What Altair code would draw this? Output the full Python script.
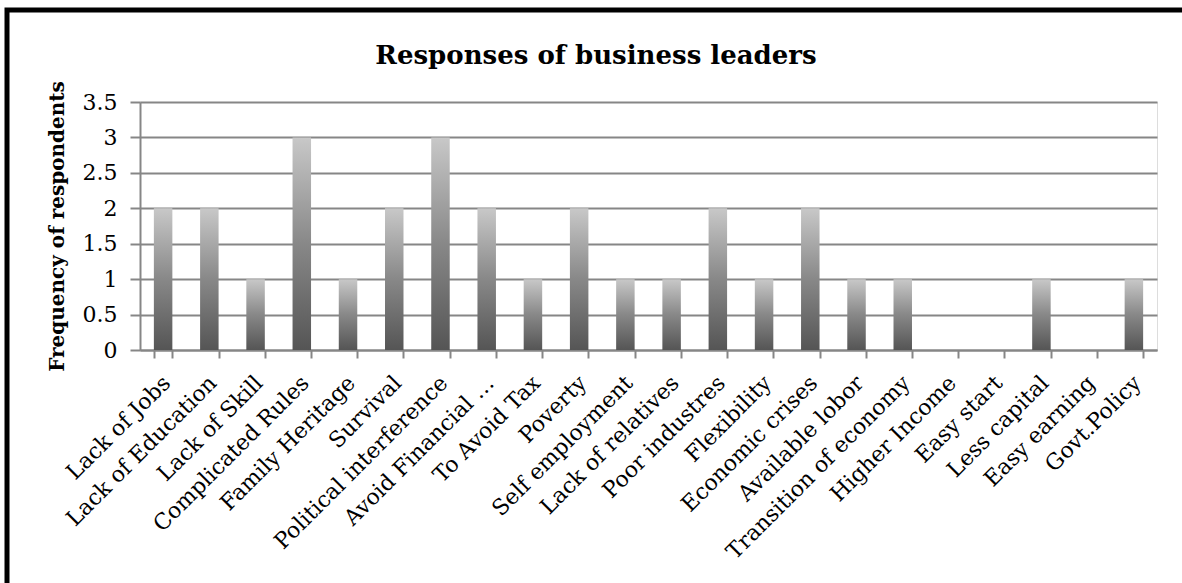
import altair as alt
import pandas as pd

categories = ["Lack of Jobs", "Lack of Education", "Lack of Skill", "Complicated Rules",
              "Family Heritage", "Survival", "Political interference", "Avoid Financial …",
              "To Avoid Tax", "Poverty", "Self employment", "Lack of relatives",
              "Poor industres", "Flexibility", "Economic crises", "Available lobor",
              "Transition of economy", "Higher Income", "Easy start", "Less capital",
              "Easy earning", "Govt.Policy"]
values = [2, 2, 1, 3, 1, 2, 3, 2, 1, 2, 1, 1, 2, 1, 2, 1, 1, 0, 0, 1, 0, 1]
y_ticks = [0, 0.5, 1, 1.5, 2, 2.5, 3, 3.5]
title_text = "Responses of business leaders"

df = pd.DataFrame({"cat": categories, "val": values})

FONT = "DejaVu Serif"
GRID = "#868686"

grad = alt.Gradient(
    gradient="linear",
    stops=[alt.GradientStop(color="#555555", offset=0),
           alt.GradientStop(color="#888888", offset=0.5),
           alt.GradientStop(color="#c8c8c8", offset=1)],
    x1=0, x2=0, y1=1, y2=0,
)

bars = alt.Chart(df).mark_bar(color=grad).encode(
    x=alt.X("cat:N", sort=categories,
            scale=alt.Scale(paddingInner=0.6, paddingOuter=0.3),
            axis=alt.Axis(title=None, labelAngle=-45, labelFont=FONT, labelFontSize=22,
                          labelColor="#000000", labelPadding=14, labelOffset=-4,
                          tickBand="extent",
                          tickSize=8, tickColor=GRID, tickWidth=2, domainColor=GRID,
                          domainWidth=2, grid=False, labelLimit=400)),
    y=alt.Y("val:Q", scale=alt.Scale(domain=[0, 3.5], nice=False),
            axis=alt.Axis(values=y_ticks, labelExpr="datum.value", title="Frequency of respondents",
                          labelFont=FONT, labelFontSize=22, labelColor="#000000",
                          labelPadding=13, tickSize=10, tickColor=GRID, tickWidth=2,
                          domainColor=GRID, domainWidth=2, grid=True, gridColor=GRID,
                          gridWidth=2, titleFont=FONT, titleFontSize=20,
                          titleFontWeight="bold", titleColor="#000000", titleAngle=-90,
                          titleX=-83, titleY=124, titleAlign="center",
                          titleBaseline="middle")),
)

title = alt.Chart(alt.Data(values=[{"t": title_text}])).mark_text(
    font=FONT, fontSize=26, fontWeight="bold", color="#000000",
    align="center", baseline="alphabetic"
).encode(text="t:N", x=alt.value(456), y=alt.value(-38))

border = alt.Chart(alt.Data(values=[{}])).mark_rect(
    fill=None, stroke="#000000", strokeWidth=5
).encode(
    x=alt.value(-133), x2=alt.value(1100), y=alt.value(-92), y2=alt.value(600)
)

chart = alt.layer(bars, title, border).properties(
    width=1017, height=248,
    autosize=alt.AutoSizeParams(type="none"),
    padding={"left": 140, "top": 102, "right": 25, "bottom": 233},
).configure_view(stroke=None).configure(background="white")

chart.save("out.html", embed_options={"renderer": "svg", "actions": False})
